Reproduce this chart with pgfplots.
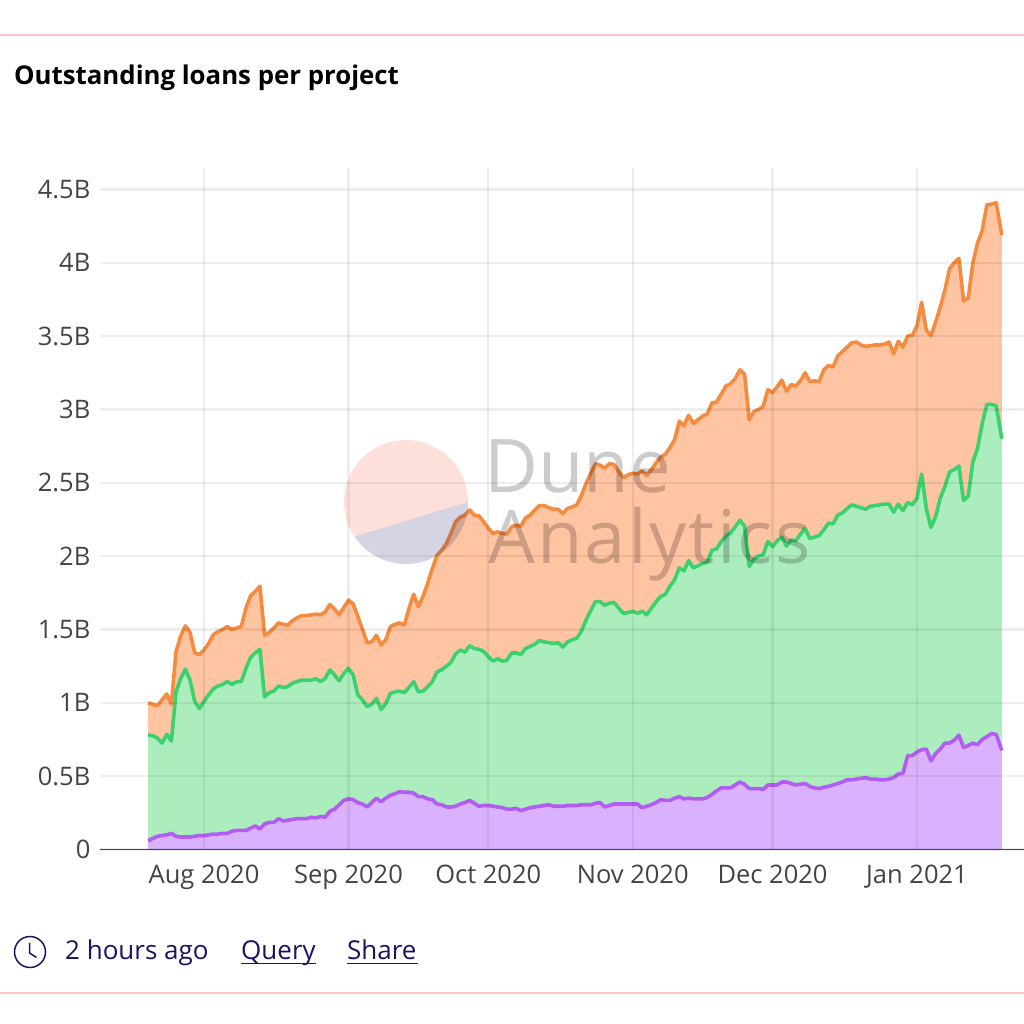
\documentclass[border=0pt]{standalone}
\usepackage{pgfplots}
\usepackage{pgfplotstable}
\pgfplotsset{compat=1.18}
\usepackage{fontspec}
\setmainfont{Open Sans}
\definecolor{orangeline}{RGB}{245,139,62}
\definecolor{orangefill}{RGB}{255,196,161}
\definecolor{greenline}{RGB}{59,209,111}
\definecolor{greenfill}{RGB}{172,237,189}
\definecolor{purpleline}{RGB}{178,92,245}
\definecolor{purplefill}{RGB}{218,177,255}
\definecolor{rulepink}{RGB}{251,197,197}
\definecolor{navy}{RGB}{26,20,100}
\definecolor{ticktext}{RGB}{68,68,68}

% day = days since 1 Aug 2020; values are stacked totals in billions
\pgfplotstableread{
day purple green orange
-12 0.06 0.78 1.00
-11 0.075 0.775 0.99
-10 0.09 0.76 0.98
-9 0.095 0.725 1.02
-8 0.10 0.785 1.06
-7 0.11 0.74 0.99
-6 0.09 1.075 1.35
-5 0.085 1.165 1.455
-4 0.085 1.23 1.525
-3 0.085 1.155 1.48
-2 0.09 1.01 1.34
-1 0.095 0.96 1.33
0 0.095 1.01 1.36
1 0.10 1.055 1.405
2 0.105 1.095 1.465
3 0.105 1.115 1.485
4 0.11 1.125 1.50
5 0.11 1.145 1.52
6 0.125 1.125 1.50
7 0.13 1.145 1.51
8 0.13 1.145 1.52
9 0.13 1.235 1.645
10 0.145 1.31 1.73
11 0.16 1.34 1.76
12 0.14 1.365 1.795
13 0.175 1.04 1.46
14 0.185 1.07 1.48
15 0.185 1.08 1.51
16 0.21 1.115 1.545
17 0.195 1.105 1.535
18 0.20 1.11 1.53
19 0.205 1.135 1.56
20 0.21 1.145 1.58
21 0.21 1.155 1.595
22 0.21 1.155 1.595
23 0.22 1.155 1.60
24 0.215 1.165 1.605
25 0.225 1.145 1.60
26 0.22 1.165 1.62
27 0.26 1.225 1.67
28 0.275 1.19 1.64
29 0.305 1.15 1.60
30 0.335 1.20 1.65
31 0.345 1.235 1.70
32 0.34 1.19 1.675
33 0.32 1.055 1.59
34 0.31 1.02 1.50
35 0.29 0.975 1.41
36 0.32 0.99 1.415
37 0.35 1.03 1.46
38 0.325 0.955 1.395
39 0.35 0.995 1.43
40 0.37 1.065 1.52
41 0.38 1.075 1.535
42 0.395 1.08 1.545
43 0.39 1.07 1.53
44 0.39 1.105 1.645
45 0.385 1.145 1.74
46 0.36 1.075 1.655
47 0.36 1.08 1.725
48 0.345 1.11 1.815
49 0.34 1.145 1.915
50 0.31 1.21 2.005
51 0.305 1.225 2.04
52 0.29 1.25 2.085
53 0.29 1.275 2.155
54 0.295 1.335 2.235
55 0.31 1.36 2.265
56 0.32 1.345 2.28
57 0.335 1.39 2.315
58 0.315 1.37 2.28
59 0.295 1.365 2.275
60 0.30 1.35 2.235
61 0.30 1.315 2.19
62 0.295 1.285 2.155
63 0.29 1.30 2.165
64 0.285 1.285 2.155
65 0.275 1.29 2.15
66 0.275 1.34 2.20
67 0.28 1.34 2.21
68 0.265 1.33 2.205
69 0.275 1.37 2.26
70 0.285 1.385 2.28
71 0.29 1.40 2.315
72 0.295 1.425 2.345
73 0.30 1.415 2.345
74 0.305 1.41 2.33
75 0.295 1.405 2.32
76 0.295 1.41 2.32
77 0.295 1.38 2.29
78 0.30 1.415 2.325
79 0.30 1.43 2.335
80 0.30 1.44 2.35
81 0.305 1.49 2.415
82 0.305 1.565 2.495
83 0.305 1.63 2.565
84 0.315 1.69 2.63
85 0.32 1.69 2.62
86 0.29 1.665 2.60
87 0.30 1.68 2.63
88 0.31 1.685 2.625
89 0.31 1.645 2.575
90 0.31 1.61 2.535
91 0.31 1.615 2.555
92 0.31 1.625 2.565
93 0.31 1.61 2.56
94 0.285 1.625 2.58
95 0.295 1.60 2.55
96 0.305 1.645 2.59
97 0.32 1.69 2.635
98 0.34 1.725 2.675
99 0.335 1.74 2.695
100 0.335 1.795 2.74
101 0.35 1.84 2.795
102 0.36 1.92 2.92
103 0.345 1.90 2.89
104 0.35 1.97 2.96
105 0.345 1.92 2.905
106 0.345 1.935 2.93
107 0.345 1.95 2.955
108 0.355 1.96 2.97
109 0.375 2.04 3.045
110 0.40 2.05 3.05
111 0.42 2.10 3.105
112 0.42 2.135 3.16
113 0.42 2.16 3.175
114 0.44 2.20 3.21
115 0.46 2.245 3.27
116 0.445 2.205 3.24
117 0.415 1.93 2.93
118 0.415 1.98 2.985
119 0.415 2.00 3.00
120 0.41 2.01 3.02
121 0.44 2.10 3.135
122 0.44 2.065 3.115
123 0.44 2.105 3.155
124 0.46 2.13 3.20
125 0.46 2.07 3.125
126 0.45 2.11 3.17
127 0.44 2.105 3.16
128 0.445 2.15 3.195
129 0.45 2.19 3.25
130 0.43 2.12 3.19
131 0.42 2.13 3.195
132 0.415 2.14 3.19
133 0.425 2.18 3.27
134 0.43 2.225 3.30
135 0.44 2.22 3.29
136 0.45 2.28 3.365
137 0.46 2.295 3.395
138 0.475 2.325 3.425
139 0.475 2.35 3.455
140 0.48 2.34 3.46
141 0.485 2.33 3.44
142 0.49 2.32 3.43
143 0.48 2.34 3.435
144 0.48 2.345 3.44
145 0.475 2.35 3.44
146 0.475 2.355 3.445
147 0.48 2.355 3.46
148 0.49 2.30 3.38
149 0.515 2.355 3.465
150 0.52 2.31 3.425
151 0.64 2.365 3.50
152 0.64 2.35 3.505
153 0.665 2.395 3.57
154 0.68 2.56 3.73
155 0.685 2.325 3.54
156 0.605 2.195 3.505
157 0.655 2.27 3.595
158 0.685 2.395 3.70
159 0.725 2.475 3.815
160 0.725 2.575 3.96
161 0.745 2.59 4.00
162 0.78 2.615 4.03
163 0.695 2.38 3.74
164 0.71 2.41 3.76
165 0.725 2.645 4.00
166 0.715 2.735 4.135
167 0.75 2.905 4.22
168 0.77 3.035 4.395
169 0.79 3.035 4.40
170 0.785 3.025 4.41
171.2 0.675 2.80 4.19
}\loans

\begin{document}
\begin{tikzpicture}[x=1pt,y=1pt]
\useasboundingbox (0,0) rectangle (1024,1024);
\fill[white] (0,0) rectangle (1024,1024);
\draw[rulepink,line width=1.6pt] (0,989) -- (1024,989);
\draw[rulepink,line width=1.6pt] (0,31) -- (1024,31);
\node[anchor=base west,inner sep=0,font=\fontsize{25.8}{30}\selectfont\bfseries] at (14,939) {Outstanding loans per project};

\begin{axis}[
  at={(100pt,174.5pt)},anchor=south west,
  scale only axis,width=924pt,height=681.5pt,
  xmin=-22.32,xmax=175.97,ymin=0,ymax=4.6466,
  axis lines=left,
  x axis line style={draw=ticktext,line width=1.5pt,-},
  y axis line style={draw=none,-},
  axis on top,
  xtick={0,31,61,92,122,153},
  xticklabels={Aug 2020,Sep 2020,Oct 2020,Nov 2020,Dec 2020,Jan 2021},
  ytick={0,0.5,1,1.5,2,2.5,3,3.5,4,4.5},
  yticklabels={0,0.5B,1B,1.5B,2B,2.5B,3B,3.5B,4B,4.5B},
  tick style={draw=none},
  grid=major,
  major grid style={draw=black,draw opacity=0.065,line width=2.2pt},
  ticklabel style={font=\fontsize{25.5}{30}\selectfont,text=ticktext},
  xticklabel style={yshift=-10pt},
  yticklabel style={xshift=-4pt},
]
\addplot[draw=none,fill=orangefill] table[x=day,y=orange]{\loans} \closedcycle;
\addplot[orangeline,line width=3.6pt,line join=round,no marks] table[x=day,y=orange]{\loans};
\addplot[draw=none,fill=greenfill] table[x=day,y=green]{\loans} \closedcycle;
\addplot[greenline,line width=3.6pt,line join=round,no marks] table[x=day,y=green]{\loans};
\addplot[draw=none,fill=purplefill] table[x=day,y=purple]{\loans} \closedcycle;
\addplot[purpleline,line width=3.6pt,line join=round,no marks] table[x=day,y=purple]{\loans};
\end{axis}

% watermark
\begin{scope}
\clip (406,522) circle (62);
\fill[fill={rgb,255:red,250;green,100;blue,70},opacity=0.2] (330,479.7) -- (480,525.7) -- (480,600) -- (330,600) -- cycle;
\end{scope}
\begin{scope}
\clip (406,522) circle (62);
\fill[fill={rgb,255:red,40;green,40;blue,110},opacity=0.2] (330,479.7) -- (480,525.7) -- (480,440) -- (330,440) -- cycle;
\end{scope}
\node[anchor=base west,inner sep=0,text=black,text opacity=0.2,font=\fontsize{74}{80}\selectfont] at (484,531) {Dune};
\node[anchor=base west,inner sep=0,text=black,text opacity=0.2,font=\fontsize{74}{80}\addfontfeature{LetterSpace=3}\selectfont] at (488,460) {Analytics};

% footer
\draw[navy,line width=1.5pt] (30,72) circle (15.5);
\draw[navy,line width=1.5pt] (29.5,81) -- (29.5,71) -- (36.5,66.5);
\node[anchor=base west,inner sep=0,text=navy,font=\fontsize{26}{30}\selectfont] at (65,64) {2 hours ago};
\node[anchor=base west,inner sep=0,text=navy,font=\fontsize{26}{30}\selectfont] at (241,64) {Query};
\node[anchor=base west,inner sep=0,text=navy,font=\fontsize{26}{30}\selectfont] at (347,64) {Share};
\draw[navy,line width=1.4pt] (241,60.5) -- (316,60.5);
\draw[navy,line width=1.4pt] (347,60.5) -- (418,60.5);
\end{tikzpicture}
\end{document}
